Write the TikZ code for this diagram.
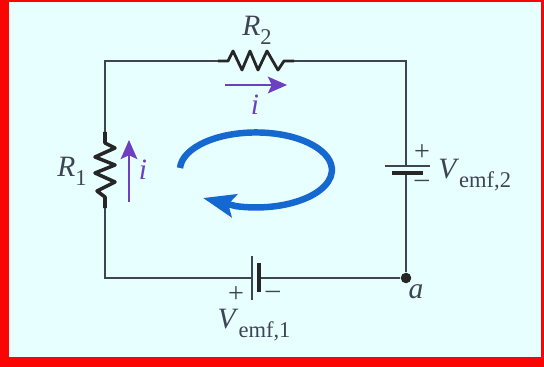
\documentclass[tikz,border=0pt]{standalone}
\usepackage{fontspec}
\setmainfont{Liberation Serif}
\definecolor{framered}{RGB}{250, 4, 4}
\definecolor{paleback}{RGB}{232, 255, 255}
\definecolor{wiregray}{RGB}{62, 68, 84}
\definecolor{loopblue}{RGB}{20, 104, 208}
\definecolor{currentpurple}{RGB}{108, 64, 192}
\usetikzlibrary{arrows.meta,positioning}
\newcommand{\emflabel}[1]{\textit{V}\raisebox{-0.3em}{\fontsize{16}{18}\selectfont emf,#1}}
\tikzset{
    wire/.style={wiregray, line width=1.1pt},
    resistor/.style={black!85, line width=2pt, line join=round},
    plate/.style={wiregray, line width=1pt},
    thickplate/.style={black!85, line width=2.4pt},
    current/.style={currentpurple, line width=1.1pt, -{Stealth[length=4.8mm, width=4.2mm, inset=1mm]}},
    label/.style={wiregray, inner sep=0pt, font=\fontsize{21}{24}\selectfont},
    signlabel/.style={wiregray, inner sep=0pt, font=\fontsize{20}{22}\selectfont}
}
\begin{document}
\begin{tikzpicture}[x=0.025cm, y=-0.025cm]
    \useasboundingbox (0,0) rectangle (544,367);
    \fill[framered] (0,0) rectangle (544,367);
    \fill[paleback] (9,2) rectangle (541,357);

    \coordinate (TL) at (105,61);
    \coordinate (BL) at (105,278);
    \coordinate (TR) at (406,61);
    \node[circle, fill=black!85, inner sep=0pt, minimum size=7.5pt] (A) at (406,278) {};
    \coordinate (R1top) at (105,132);
    \coordinate (R1bot) at (105,208);
    \coordinate (R2left) at (218,61);
    \coordinate (R2right) at (294,61);
    \coordinate (E1plus) at (252,278);
    \coordinate (E1minus) at (259,278);
    \coordinate (E2plus) at (406,166);
    \coordinate (E2minus) at (406,173);

    \draw[wire] (R1top) -- (TL) -- (R2left);
    \draw[wire] (R2right) -- (TR) -- (E2plus);
    \draw[wire] (E2minus) -- (A) -- (E1minus);
    \draw[wire] (E1plus) -- (BL) -- (R1bot);
    \draw[resistor] (R2left) -- (228,61) -- (233,51) -- (242,70) -- (250,51) -- (258,70) -- (267,51) -- (278,70) -- (284,61) -- (R2right);
    \draw[resistor, line width=2.5pt] (R1top) -- (105,143) -- (115,148) -- (95,157) -- (115,165) -- (95,173) -- (115,182) -- (97,191) -- (105,197) -- (R1bot);

    \draw[plate] (252,256) -- (252,300);
    \draw[thickplate] (259,263) -- (259,292);
    \draw[plate] (385,166) -- (430,166);
    \draw[thickplate] (392,173) -- (423,173);

    \coordinate (IRa) at (225,85);
    \coordinate (IRb) at (287,85);
    \coordinate (ILa) at (129,202);
    \coordinate (ILb) at (129,140);
    \draw[current] (IRa) -- (IRb);
    \draw[current] (ILa) -- (ILb);

    \draw[loopblue, line width=4.6pt, -{Stealth[length=8mm, width=5.8mm, inset=1.5mm]}] (180,168) arc[start angle=183, end angle=465, x radius=76, y radius=37.5] -- (203,198);

    \node[label] (R2) at (257,30) {\textit{R}\raisebox{-0.3em}{\fontsize{16}{18}\selectfont 2}};
    \node[label] (R1) at (72,171) {\textit{R}\raisebox{-0.3em}{\fontsize{16}{18}\selectfont 1}};
    \node[label, text=currentpurple] (i1) at (255,105) {\textit{i}};
    \node[label, text=currentpurple] (i2) at (143,170) {\textit{i}};
    \node[label, anchor=west] (E2) at (438,175) {\emflabel{2}};
    \node[label] (E1) at (254,325) {\emflabel{1}};
    \node[label] (a) at (416,292) {\textit{a}};
    \node[signlabel] (P2) at (422,153) {+};
    \node[signlabel] (M2) at (422,184) {–};
    \node[signlabel] (P1) at (236,295) {+};
    \node[signlabel] (M1) at (273,295) {–};
\end{tikzpicture}
\end{document}
